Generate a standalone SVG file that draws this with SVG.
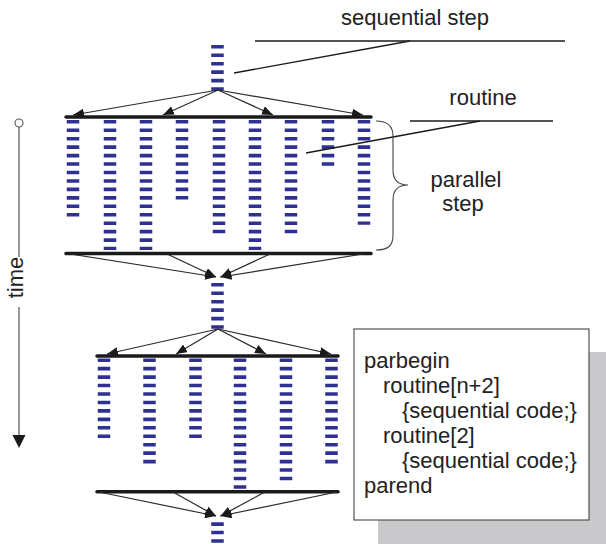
<svg xmlns="http://www.w3.org/2000/svg" width="606" height="544" viewBox="0 0 606 544">
  <style>
    .col { stroke: #2e3192; stroke-width: 12.5; stroke-dasharray: 3.6 4.85; fill: none; }
    .bar { stroke: #1a1a1a; stroke-width: 3.5; stroke-linecap: round; }
    .fan { stroke: #2a2a2a; stroke-width: 1.2; fill: none; marker-end: url(#head); }
    .lead { stroke: #1a1a1a; stroke-width: 1.3; fill: none; }
    .lbl { font-family: "Liberation Sans", Arial, sans-serif; font-size: 22px; fill: #222; }
  </style>
  <defs>
    <marker id="head" markerUnits="userSpaceOnUse" markerWidth="12" markerHeight="9" refX="11" refY="4.5" orient="auto">
      <path d="M0,0 L11,4.5 L0,9 z" fill="#1a1a1a"/>
    </marker>
  </defs>

  <!-- time axis -->
  <g id="time-axis">
    <line x1="19" y1="127" x2="19" y2="257" stroke="#555" stroke-width="1.2"/>
    <line x1="19" y1="307" x2="19" y2="437" stroke="#555" stroke-width="1.2"/>
    <circle cx="19" cy="123" r="4" fill="#fff" stroke="#555" stroke-width="1.1"/>
    <polygon points="12.5,435 25.5,435 19,448" fill="#1a1a1a"/>
    <text class="lbl" transform="translate(23,277.5) rotate(-90)" text-anchor="middle">time</text>
  </g>

  <!-- sequential steps -->
  <g id="seq-top"><line class="col" x1="217.5" y1="45" x2="217.5" y2="90.9"/></g>
  <g id="seq-mid"><line class="col" x1="217.5" y1="283" x2="217.5" y2="328.9"/></g>
  <g id="seq-bottom"><line class="col" x1="217.5" y1="522.3" x2="217.5" y2="544"/></g>

  <!-- first parallel step -->
  <g id="par1">
    <line class="bar" x1="66" y1="117" x2="371" y2="117"/>
    <line class="bar" x1="66" y1="253.5" x2="371" y2="253.5"/>
    <line class="col" x1="73" y1="120" x2="73" y2="216.4"/>
    <line class="col" x1="110" y1="120" x2="110" y2="250.1"/>
    <line class="col" x1="146" y1="120" x2="146" y2="250.1"/>
    <line class="col" x1="182" y1="120" x2="182" y2="199.5"/>
    <line class="col" x1="219" y1="120" x2="219" y2="233.2"/>
    <line class="col" x1="255" y1="120" x2="255" y2="250.1"/>
    <line class="col" x1="291" y1="120" x2="291" y2="233.2"/>
    <line class="col" x1="328" y1="120" x2="328" y2="165.8"/>
    <line class="col" x1="364" y1="120" x2="364" y2="224.8"/>
  </g>

  <!-- second parallel step -->
  <g id="par2">
    <line class="bar" x1="97" y1="356" x2="338" y2="356"/>
    <line class="bar" x1="97" y1="491.7" x2="338" y2="491.7"/>
    <line class="col" x1="104" y1="358.4" x2="104" y2="438.1"/>
    <line class="col" x1="149.5" y1="358.4" x2="149.5" y2="463.4"/>
    <line class="col" x1="195.5" y1="358.4" x2="195.5" y2="438.1"/>
    <line class="col" x1="240" y1="358.4" x2="240" y2="488.8"/>
    <line class="col" x1="286" y1="358.4" x2="286" y2="480.3"/>
    <line class="col" x1="331.5" y1="358.4" x2="331.5" y2="463.4"/>
  </g>

  <!-- connectors -->
  <g id="connectors">
    <line class="fan" x1="218" y1="90" x2="73" y2="115"/>
    <line class="fan" x1="218" y1="90" x2="163" y2="115"/>
    <line class="fan" x1="218" y1="90" x2="273" y2="115"/>
    <line class="fan" x1="218" y1="90" x2="363" y2="115"/>

    <line class="fan" x1="70" y1="254" x2="216" y2="277"/>
    <line class="fan" x1="167" y1="254" x2="216" y2="277"/>
    <line class="fan" x1="270" y1="254" x2="220.5" y2="277"/>
    <line class="fan" x1="363" y1="254" x2="220.5" y2="277"/>

    <line class="fan" x1="218" y1="329" x2="107" y2="354"/>
    <line class="fan" x1="218" y1="329" x2="176" y2="354"/>
    <line class="fan" x1="218" y1="329" x2="266" y2="354"/>
    <line class="fan" x1="218" y1="329" x2="331" y2="354"/>

    <line class="fan" x1="99" y1="492" x2="216" y2="516"/>
    <line class="fan" x1="173" y1="492" x2="216" y2="516"/>
    <line class="fan" x1="265" y1="492" x2="220.5" y2="516"/>
    <line class="fan" x1="337" y1="492" x2="220.5" y2="516"/>
  </g>

  <!-- labels -->
  <g id="label-sequential">
    <text class="lbl" x="415" y="25" text-anchor="middle">sequential step</text>
    <line class="lead" x1="255" y1="41" x2="565" y2="41"/>
    <line class="lead" x1="234" y1="73" x2="410" y2="41"/>
  </g>
  <g id="label-routine">
    <text class="lbl" x="483" y="105" text-anchor="middle">routine</text>
    <line class="lead" x1="410" y1="121" x2="553" y2="121"/>
    <line class="lead" x1="306" y1="153" x2="480" y2="121"/>
  </g>
  <g id="label-parallel">
    <path d="M376,121 C389,121 393,127 393,136 L393,170 C393,180 398,185 408,185 C398,185 393,190 393,200 L393,235 C393,245 389,250 376,250" fill="none" stroke="#444" stroke-width="1.1"/>
    <text class="lbl" x="466" y="187" text-anchor="middle">parallel</text>
    <text class="lbl" x="463" y="211" text-anchor="middle">step</text>
  </g>

  <!-- code box -->
  <g id="code">
    <rect x="378" y="352" width="228" height="192" fill="#c9c9cb"/>
    <rect x="354" y="329" width="235" height="191" fill="#fff" stroke="#444" stroke-width="1.1"/>
    <text class="lbl" x="364" y="368">parbegin</text>
    <text class="lbl" x="383" y="393">routine[n+2]</text>
    <text class="lbl" x="402" y="418">{sequential code;}</text>
    <text class="lbl" x="383" y="443">routine[2]</text>
    <text class="lbl" x="402" y="468">{sequential code;}</text>
    <text class="lbl" x="364" y="493">parend</text>
  </g>
</svg>
